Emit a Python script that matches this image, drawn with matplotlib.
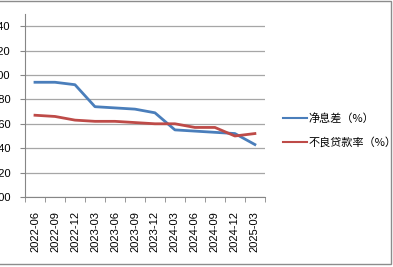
import numpy as np
import matplotlib.pyplot as plt
from matplotlib.patches import Rectangle

plt.rcParams['font.family'] = ['Liberation Sans', 'Noto Sans CJK SC', 'DejaVu Sans']

# data
quarters = ['2022-06', '2022-09', '2022-12', '2023-03', '2023-06', '2023-09',
            '2023-12', '2024-03', '2024-06', '2024-09', '2024-12', '2025-03']
nim = [1.94, 1.94, 1.92, 1.74, 1.73, 1.72, 1.69, 1.55, 1.54, 1.53, 1.52, 1.43]
npl = [1.67, 1.66, 1.63, 1.62, 1.62, 1.61, 1.60, 1.60, 1.57, 1.57, 1.50, 1.52]
yticks = [1.00, 1.20, 1.40, 1.60, 1.80, 2.00, 2.20, 2.40]
names = ['净息差（%）', '不良贷款率（%）']

fig = plt.figure(figsize=(3.93, 2.67), dpi=100)
ax = fig.add_axes([0.0636, 0.262, 0.6104, 0.686])

x = np.arange(len(quarters))
ax.plot(x, nim, color='#4a7ebb', lw=2.0, label=names[0])
ax.plot(x, npl, color='#be4b48', lw=2.0, label=names[1])

ax.set_xlim(-0.5, len(quarters) - 0.5)
ax.set_ylim(1.0, 2.5)
ax.set_yticks(yticks)
ax.set_yticklabels([f'{v:.2f}' for v in yticks], fontsize=8)
ax.yaxis.grid(True, color='#a6a6a6', lw=0.9)
ax.set_axisbelow(True)

ax.set_xticks(x)
ax.set_xticklabels(quarters, rotation=90, fontsize=8)
ax.set_xticks(np.arange(-0.5, len(quarters)), minor=True)
ax.tick_params(axis='x', which='major', length=0, pad=10)
ax.tick_params(axis='x', which='minor', length=3.5, color='#868686', direction='out')
ax.tick_params(axis='y', length=3.5, color='#868686', pad=7)

for s in ['top', 'right']:
    ax.spines[s].set_visible(False)
for s in ['left', 'bottom']:
    ax.spines[s].set_color('#868686')

leg = ax.legend(loc='center left', bbox_to_anchor=(0.72, 0.512), bbox_transform=fig.transFigure,
                frameon=False, handlelength=2.2, handletextpad=0.1,
                labelspacing=1.15, borderpad=0, borderaxespad=0,
                prop={'family': ['Noto Sans CJK SC', 'DejaVu Sans'], 'size': 8})
for h in leg.get_lines():
    h.set_linewidth(1.5)

# outer chart border (left side cropped)
fig.patches.append(Rectangle((-0.05, 0.011), 1.045, 0.985, transform=fig.transFigure,
                             fill=False, edgecolor='#8c8c8c', lw=1))

fig.savefig('out.png', dpi=100)
